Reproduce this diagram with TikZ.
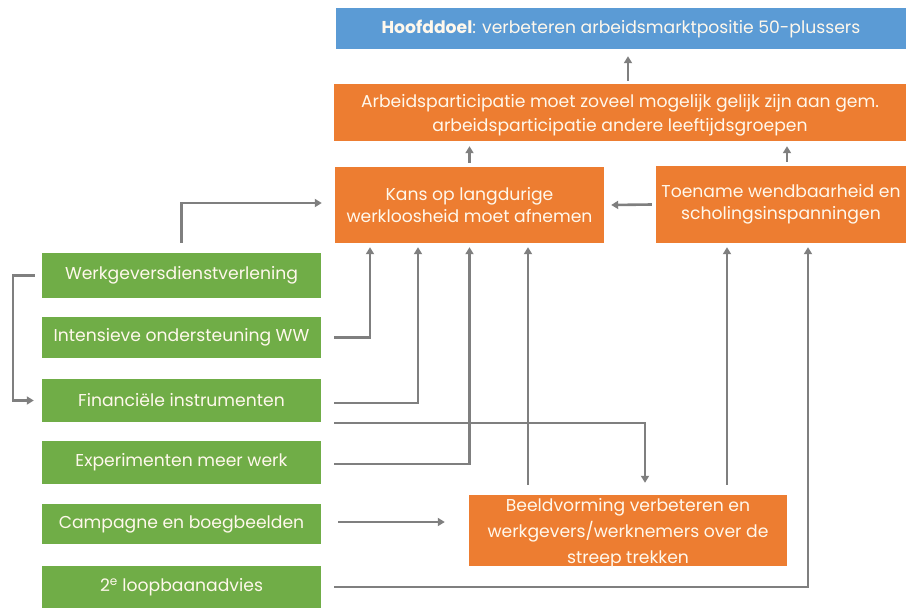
\documentclass[tikz,border=0pt]{standalone}
\usepackage{fontspec}
\setmainfont{Poppins}
\usetikzlibrary{arrows.meta}
\definecolor{cgreen}{HTML}{70AD47}
\definecolor{corange}{HTML}{ED7D31}
\definecolor{cblue}{HTML}{5B9BD5}
\definecolor{cline}{HTML}{7F7F7F}
\definecolor{ctext}{HTML}{FFF8EC}
\tikzset{
  box/.style={rectangle, inner sep=0pt, text=ctext, align=center, font=\fontsize{17.2}{22}\selectfont},
  gbox/.style={box, fill=cgreen, minimum width=279pt},
  obox/.style={box, fill=corange},
  txt/.style={inner sep=0pt, text=ctext, align=center},
  arr/.style={draw=cline, line width=2.6pt, -{Triangle[length=7pt,width=8pt]}},
}
\begin{document}
\begin{tikzpicture}[x=1pt,y=-1pt]
\useasboundingbox (0,0) rectangle (908,608);
% boxes
\node[box, fill=cblue, minimum width=570pt, minimum height=41pt] (goal) at (621,28.5)
  {\textbf{Hoofddoel}: verbeteren arbeidsmarktpositie 50-plussers};
\node[obox, minimum width=572pt, minimum height=57pt] (arb) at (620,112.5) {};
\node[txt, font=\fontsize{17.2}{24}\selectfont] (arbtxt) at ([yshift=-2.5pt]arb.center)
  {Arbeidsparticipatie moet zoveel mogelijk gelijk zijn aan gem.\\arbeidsparticipatie andere leeftijdsgroepen};
\node[obox, minimum width=269pt, minimum height=76pt] (kans) at (469.5,205)
  {Kans op langdurige\\werkloosheid moet afnemen};
\node[obox, minimum width=250pt, minimum height=77pt] (toe) at (781,204.5)
  {Toename wendbaarheid en\\scholingsinspanningen};
\node[obox, minimum width=318pt, minimum height=71pt] (beeld) at (628,530.5) {};
\node[txt, font=\fontsize{17.2}{26}\selectfont] (beeldtxt) at ([yshift=-3pt]beeld.center)
  {Beeldvorming verbeteren en\\werkgevers/werknemers over de\\streep trekken};
\node[gbox, minimum height=45pt] (g1) at (181.5,275.5) {Werkgeversdienstverlening};
\node[gbox, minimum height=41pt] (g2) at (181.5,337.5) {Intensieve ondersteuning WW};
\node[gbox, minimum height=43pt] (g3) at (181.5,400.5) {Financiële instrumenten};
\node[gbox, minimum height=43pt] (g4) at (181.5,462.5) {Experimenten meer werk};
\node[gbox, minimum height=40pt] (g5) at (181.5,524) {Campagne en boegbeelden};
\node[gbox, minimum height=42pt] (g6) at (181.5,587) {2\textsuperscript{e} loopbaanadvies};
% connectors
\draw[arr] ([yshift=3pt]arb.north -| 628,0) coordinate (a0) -- ([yshift=-7pt]goal.south -| a0);
\draw[arr] ([yshift=4pt]kans.north) -- ([yshift=-5pt]arb.south -| kans.north);
\draw[arr] ([xshift=6pt,yshift=4pt]toe.north) coordinate (t0) -- ([yshift=-5pt]arb.south -| t0);
\draw[arr] ([xshift=-4pt]toe.west) -- ([xshift=7pt]kans.east);
\draw[arr] ([yshift=10pt]g1.north) |- ([xshift=-13pt,yshift=2pt]kans.west);
\draw[arr] ([xshift=-7pt]g1.west) -- ++(-22,0) |- ([xshift=-8pt]g3.west);
\draw[arr] ([xshift=13pt]g2.east) -| ([xshift=-99.5pt,yshift=-4pt]kans.south);
\draw[arr] ([xshift=13pt,yshift=-2.5pt]g3.east) -| ([xshift=-51.5pt,yshift=-4pt]kans.south);
\draw[arr] ([xshift=13pt,yshift=-22.5pt]g3.east) -| ([xshift=17pt,yshift=12pt]beeld.north);
\draw[arr] ([xshift=13pt,yshift=-1.5pt]g4.east) -| ([yshift=-4pt]kans.south);
\draw[arr] ([xshift=17pt,yshift=2pt]g5.east) -- ([xshift=-24pt,yshift=2pt]g5.east -| beeld.west);
\draw[arr] ([xshift=-100pt,yshift=10pt]beeld.north) coordinate (b1) -- ([yshift=-4pt]b1 |- kans.south);
\draw[arr] ([xshift=99pt,yshift=10pt]beeld.north) coordinate (b2) -- ([yshift=-4pt]b2 |- toe.south);
\draw[arr] ([xshift=13pt]g6.east) -| ([xshift=27pt,yshift=-4pt]toe.south);
\end{tikzpicture}
\end{document}
